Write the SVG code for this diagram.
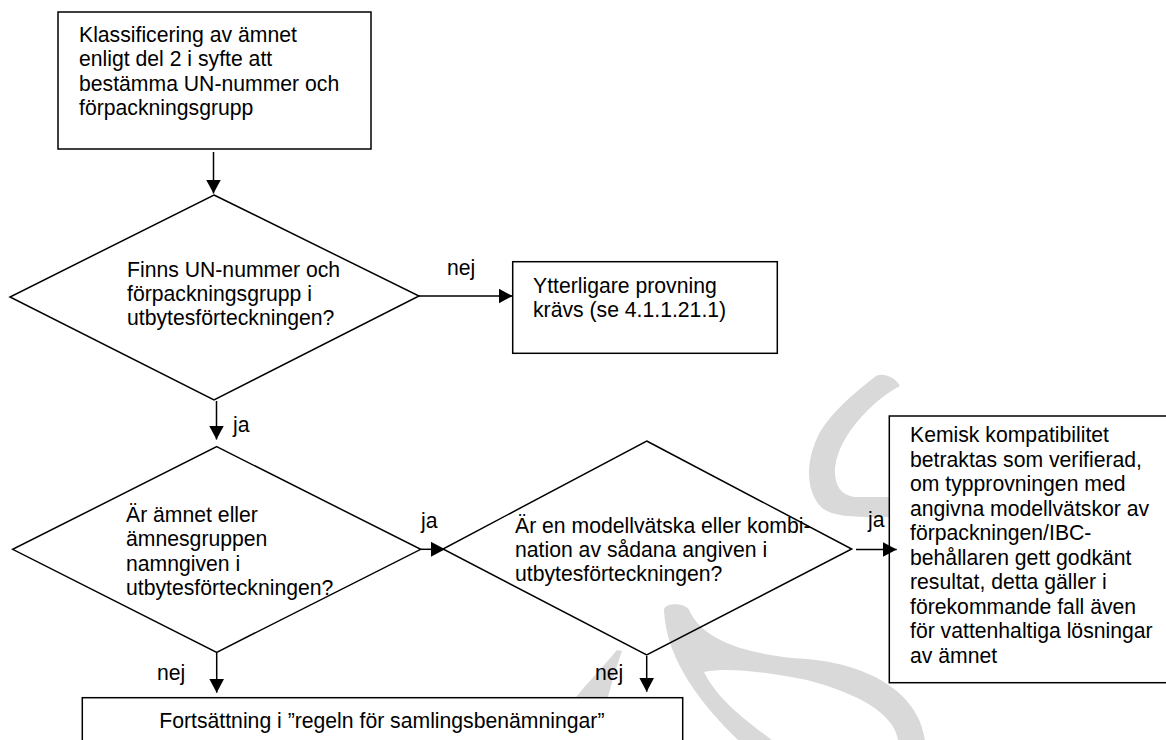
<svg xmlns="http://www.w3.org/2000/svg" width="1166" height="740" viewBox="0 0 1166 740">
<style>
text{font-family:"Liberation Sans",Arial,sans-serif;font-size:21.2px;fill:#000}
.box{fill:#fff;stroke:#000;stroke-width:1.5}
.dia{fill:none;stroke:#000;stroke-width:1.5}
.edge{fill:none;stroke:#000;stroke-width:1.5;marker-end:url(#ah)}
.wm{fill:#d9d9d9}
</style>
<defs>
<marker id="ah" markerUnits="userSpaceOnUse" markerWidth="15" markerHeight="16" refX="14" refY="7.5" orient="auto">
<path d="M0,0 L14,7.5 L0,15 Z" fill="#000"/>
</marker>
</defs>
<rect width="1166" height="740" fill="#fff"/>
<g id="watermark">
<path class="wm" d="M876,376 C855,392 832,412 820,432 C806,458 804,490 822,508 C835,518 860,517 892,517 L892,497 L854,497 C840,495 834,484 835,468 C837,448 850,428 868,410 C880,398 892,390 900,386 C896,378 884,372 876,376 Z"/>
<path class="wm" d="M664,610 C664,602 688,602 690,612 C704,640 745,655 807,659 C865,664 918,690 925,740 L898,740 C894,714 860,694 807,680 C765,672 728,667 704,672 C718,700 745,720 772,740 L738,740 C702,705 666,660 664,610 Z"/>
<path class="wm" d="M617,650 C605,665 585,685 570,705 L606,705 C610,688 616,668 622,651 Z"/>
</g>
<g id="n1">
<rect class="box" x="58" y="12" width="313" height="137"/>
<text x="79" y="41.7">Klassificering av ämnet</text>
<text x="79" y="66.1">enligt del 2 i syfte att</text>
<text x="79" y="90.5">bestämma UN-nummer och</text>
<text x="79" y="115">förpackningsgrupp</text>
</g>
<g id="n2">
<polygon class="dia" points="214,195 419,296 214,400 10,297"/>
<text x="127" y="276.7">Finns UN-nummer och</text>
<text x="127" y="301">förpackningsgrupp i</text>
<text x="127" y="325">utbytesförteckningen?</text>
</g>
<g id="n3">
<rect class="box" x="512.7" y="261.7" width="264.6" height="91.6"/>
<text x="533" y="293">Ytterligare provning</text>
<text x="533" y="317">krävs (se 4.1.1.21.1)</text>
</g>
<g id="n4">
<polygon class="dia" points="216.7,446.7 420.7,549.3 216.7,652.3 12.7,549.3"/>
<text x="126" y="521.7">Är ämnet eller</text>
<text x="126" y="546.1">ämnesgruppen</text>
<text x="126" y="570.5">namngiven i</text>
<text x="126" y="595">utbytesförteckningen?</text>
</g>
<g id="n5">
<polygon class="dia" points="646.7,441 851.7,549 646.7,655 443,549"/>
<text x="515" y="533">Är en modellvätska eller kombi-</text>
<text x="515" y="557">nation av sådana angiven i</text>
<text x="515" y="581">utbytesförteckningen?</text>
</g>
<g id="n6">
<rect class="box" x="889.3" y="416" width="290" height="266.7"/>
<text x="910" y="442">Kemisk kompatibilitet</text>
<text x="910" y="466.5">betraktas som verifierad,</text>
<text x="910" y="491">om typprovningen med</text>
<text x="910" y="515.5">angivna modellvätskor av</text>
<text x="910" y="540">förpackningen/IBC-</text>
<text x="910" y="564.5">behållaren gett godkänt</text>
<text x="910" y="589">resultat, detta gäller i</text>
<text x="910" y="613.5">förekommande fall även</text>
<text x="910" y="638">för vattenhaltiga lösningar</text>
<text x="910" y="662.5">av ämnet</text>
</g>
<g id="n7">
<rect class="box" x="82.3" y="697.7" width="600.4" height="60"/>
<text x="159.3" y="728.3">Fortsättning i ”regeln för samlingsbenämningar”</text>
</g>
<g id="connectors">
<path class="edge" d="M213.5,152 L213.5,193.5"/>
<path class="edge" d="M419,296 L512.5,296"/>
<path class="edge" d="M216.5,401 L216.5,439.5"/>
<path class="edge" d="M420.7,549.3 L445,549.3"/>
<path class="edge" d="M856,549.5 L896.7,549.5"/>
<path class="edge" d="M216.7,653 L216.7,692.7"/>
<path class="edge" d="M646.7,656 L646.7,691.7"/>
<text x="447" y="275">nej</text>
<text x="233" y="432">ja</text>
<text x="421" y="528">ja</text>
<text x="868" y="527">ja</text>
<text x="157" y="680">nej</text>
<text x="595" y="680">nej</text>
</g>
</svg>
